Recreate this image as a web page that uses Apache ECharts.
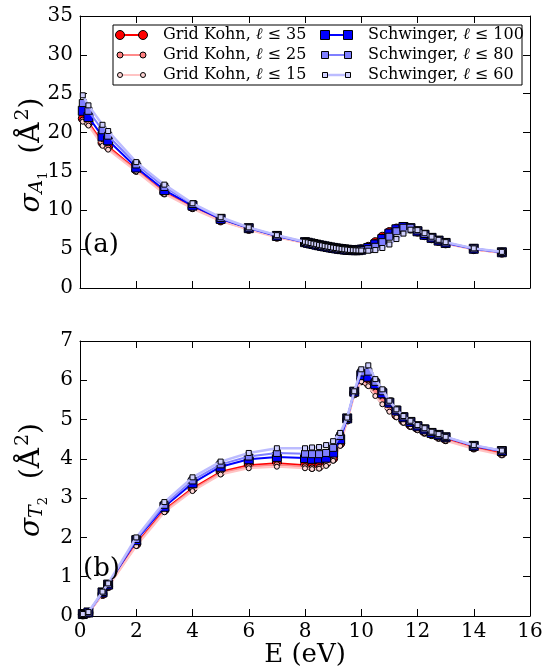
<!DOCTYPE html>
<html><head><meta charset="utf-8">
<script src="https://cdn.jsdelivr.net/npm/echarts@6.0.0/dist/echarts.min.js"></script>
<style>html,body{margin:0;padding:0;background:#fff}#c{width:546px;height:672px}</style>
</head><body><div id="c"></div>
<script>
// ---------- data: panel (a), A1 symmetry ----------
const energyA = [0.1,0.3,0.8,1.0,2,3,4,5,6,7,
  8.0,8.1,8.2,8.3,8.4,8.5,8.6,8.7,8.8,8.9,9.0,9.1,9.2,9.3,9.4,9.5,9.6,9.7,9.8,9.9,10.0,
  10.25,10.5,10.75,11.0,11.25,11.5,11.75,12.0,12.25,12.5,12.75,13.0,14,15];
const gk35A = [21.8,21.3,18.7,18.2,15.2,12.3,10.4,8.7,7.6,6.6,
  5.85,5.77,5.69,5.61,5.53,5.46,5.39,5.32,5.25,5.19,5.13,5.08,5.03,4.99,4.95,4.92,4.90,4.89,4.90,4.93,5.00,
  5.30,5.90,6.60,7.20,7.65,7.85,7.65,7.25,6.80,6.40,6.05,5.75,5.00,4.55];
const gk25A = [21.6,21.1,18.5,18.0,15.1,12.2,10.3,8.65,7.55,6.55,
  5.83,5.75,5.67,5.59,5.51,5.44,5.37,5.30,5.24,5.18,5.12,5.07,5.02,4.98,4.94,4.91,4.89,4.88,4.89,4.92,4.98,
  5.28,5.85,6.55,7.15,7.60,7.80,7.60,7.20,6.75,6.35,6.00,5.72,4.98,4.52];
const gk15A = [21.4,20.9,18.3,17.8,15.0,12.1,10.2,8.6,7.5,6.5,
  5.80,5.72,5.64,5.57,5.49,5.42,5.35,5.29,5.23,5.17,5.11,5.06,5.01,4.97,4.93,4.90,4.88,4.87,4.88,4.91,4.97,
  5.25,5.80,6.50,7.10,7.55,7.75,7.55,7.15,6.70,6.30,5.95,5.70,4.95,4.50];
const s100A = [22.8,22.0,19.5,19.0,15.5,12.6,10.6,8.9,7.7,6.7,
  5.90,5.82,5.74,5.66,5.58,5.50,5.43,5.36,5.29,5.22,5.16,5.10,5.05,5.00,4.96,4.92,4.89,4.87,4.86,4.87,4.92,
  5.15,5.60,6.30,7.00,7.55,7.85,7.70,7.30,6.85,6.45,6.10,5.80,5.05,4.60];
const s80A = [23.8,22.8,20.3,19.6,15.9,13.0,10.8,9.0,7.75,6.75,
  5.92,5.84,5.76,5.68,5.60,5.52,5.45,5.38,5.31,5.24,5.18,5.12,5.06,5.01,4.97,4.93,4.90,4.88,4.87,4.87,4.90,
  5.00,5.30,5.90,6.60,7.30,7.75,7.75,7.40,6.95,6.50,6.15,5.85,5.08,4.62];
const s60A = [24.8,23.5,21.0,20.2,16.2,13.3,10.9,9.1,7.8,6.8,
  5.95,5.87,5.79,5.71,5.63,5.55,5.48,5.41,5.34,5.27,5.20,5.14,5.08,5.03,4.98,4.94,4.90,4.87,4.85,4.83,4.82,
  4.80,4.88,5.15,5.60,6.30,7.00,7.50,7.45,7.05,6.60,6.20,5.90,5.10,4.65];

// ---------- data: panel (b), T2 symmetry ----------
const energyB = [0.1,0.3,0.8,1.0,2,3,4,5,6,7,
  8.0,8.25,8.5,8.75,9.0,9.25,9.5,9.75,10.0,10.25,10.5,10.75,11.0,11.25,11.5,11.75,12.0,12.25,12.5,12.75,13.0,14,15];
const gk35B = [0.04,0.08,0.56,0.76,1.83,2.70,3.25,3.67,3.84,3.89,
  3.84,3.80,3.81,3.89,4.01,4.39,5.00,5.67,6.00,5.92,5.75,5.54,5.31,5.11,4.97,4.86,4.78,4.69,4.63,4.56,4.50,4.29,4.14];
const gk25B = [0.04,0.08,0.55,0.75,1.80,2.67,3.22,3.64,3.80,3.85,
  3.80,3.77,3.78,3.86,3.98,4.36,4.98,5.64,5.98,5.88,5.70,5.48,5.26,5.08,4.94,4.84,4.76,4.67,4.61,4.54,4.48,4.27,4.12];
const gk15B = [0.04,0.08,0.54,0.74,1.78,2.64,3.18,3.60,3.76,3.80,
  3.76,3.74,3.75,3.82,3.95,4.33,4.96,5.62,5.97,5.85,5.60,5.39,5.20,5.06,4.92,4.82,4.73,4.65,4.59,4.52,4.46,4.25,4.10];
const s100B = [0.05,0.09,0.60,0.80,1.93,2.78,3.38,3.80,3.99,4.05,
  4.02,4.00,4.01,4.03,4.16,4.50,5.03,5.71,6.13,6.09,5.90,5.67,5.43,5.23,5.06,4.94,4.83,4.75,4.66,4.61,4.55,4.33,4.20];
const s80B = [0.05,0.09,0.61,0.81,1.96,2.83,3.45,3.86,4.06,4.15,
  4.13,4.12,4.12,4.15,4.28,4.58,5.04,5.72,6.20,6.22,5.96,5.72,5.46,5.25,5.08,4.96,4.85,4.77,4.68,4.62,4.56,4.34,4.21];
const s60B = [0.05,0.10,0.62,0.83,2.00,2.90,3.53,3.93,4.15,4.27,
  4.27,4.29,4.30,4.35,4.45,4.66,5.05,5.72,6.28,6.38,6.03,5.77,5.48,5.26,5.09,4.97,4.86,4.78,4.69,4.63,4.56,4.35,4.21];

// ---------- labels ----------
const legendMethod = ['Grid Kohn','Grid Kohn','Grid Kohn','Schwinger','Schwinger','Schwinger'];
const legendLmax = ['35','25','15','100','80','60'];
const xTicksMax = 16, xTickStep = 2;
const yTopMax = 35, yTopStep = 5;
const yBotMax = 7, yBotStep = 1;

// ---------- styles ----------
const FONT = '"DejaVu Serif", "Liberation Serif", serif';
const styles = [
  {sym:'circle', size:9, fill:'#ff0000', line:'#ff0000', lw:2},
  {sym:'circle', size:6, fill:'#ff8080', line:'#ff8a8a', lw:2},
  {sym:'circle', size:5, fill:'#ffd6d6', line:'#ffc4c4', lw:2},
  {sym:'rect',   size:9, fill:'#0000ff', line:'#0000ff', lw:2},
  {sym:'rect',   size:7, fill:'#7f7fff', line:'#7f7fff', lw:2},
  {sym:'rect',   size:5, fill:'#d0d0ff', line:'#bcbcff', lw:2.5},
];

const panelA = [gk35A, gk25A, gk15A, s100A, s80A, s60A];
const panelB = [gk35B, gk25B, gk15B, s100B, s80B, s60B];

function xAxis(grid, pos, labels) {
  return {type:'value', gridIndex:grid, position:pos, min:0, max:xTicksMax, interval:xTickStep,
    axisLine:{show:true, onZero:false, lineStyle:{color:'#000', width:1}},
    axisTick:{show:true, inside:true, length:7, lineStyle:{color:'#000', width:1}},
    axisLabel:{show:labels, fontFamily:FONT, fontSize:20, color:'#000', margin:6},
    splitLine:{show:false}};
}
function yAxis(grid, pos, max, step, labels) {
  return {type:'value', gridIndex:grid, position:pos, min:0, max:max, interval:step,
    axisLine:{show:true, onZero:false, lineStyle:{color:'#000', width:1}},
    axisTick:{show:true, inside:true, length:7, lineStyle:{color:'#000', width:1}},
    axisLabel:{show:labels, fontFamily:FONT, fontSize:20, color:'#000', margin:7},
    splitLine:{show:false}};
}

const series = [];
function addPanel(energies, values, xi, yi) {
  values.forEach((vals, k) => {
    const s = styles[k];
    series.push({
      type:'line', xAxisIndex:xi, yAxisIndex:yi,
      name: legendMethod[k] + ' ' + legendLmax[k],
      data: energies.map((e, i) => [e, vals[i]]),
      symbol: s.sym, symbolSize: s.size, showAllSymbol:true,
      lineStyle:{color:s.line, width:s.lw},
      itemStyle:{color:s.fill, borderColor:'#000', borderWidth:1},
      z: 2 + k, animation:false, silent:true
    });
  });
}
addPanel(energyA, panelA, 0, 0);
addPanel(energyB, panelB, 2, 2);

// legend (drawn as graphic, matplotlib-like with two markers per sample)
const legendChildren = [{type:'rect', shape:{x:113, y:25, width:409, height:60},
  style:{fill:'#fff', stroke:'#000', lineWidth:1}}];
for (let i = 0; i < 6; i++) {
  const col = i < 3 ? 0 : 1, row = i % 3, s = styles[i];
  const x0 = col ? 325 : 120, x1 = col ? 348 : 143, tx = col ? 368 : 163, y = 35 + row * 20;
  legendChildren.push({type:'line', shape:{x1:x0, y1:y, x2:x1, y2:y}, style:{stroke:s.line, lineWidth:s.lw}});
  [x0, x1].forEach(xx => {
    if (s.sym === 'circle') legendChildren.push({type:'circle', shape:{cx:xx, cy:y, r:s.size/2},
      style:{fill:s.fill, stroke:'#000', lineWidth:1}});
    else legendChildren.push({type:'rect', shape:{x:xx - s.size/2, y:y - s.size/2, width:s.size, height:s.size},
      style:{fill:s.fill, stroke:'#000', lineWidth:1}});
  });
  legendChildren.push({type:'text', x:tx, y:y, style:{
    text:'{r|' + legendMethod[i] + ', }{i|ℓ}{r| ≤ ' + legendLmax[i] + '}',
    rich:{r:{fontFamily:FONT, fontSize:16, fill:'#000'}, i:{fontFamily:FONT, fontSize:16, fontStyle:'italic', fill:'#000'}},
    verticalAlign:'middle', textVerticalAlign:'middle', align:'left', textAlign:'left'}});
}

function yLabel(cx, cy, sub, subsub) {
  return {type:'text', x:cx, y:cy, rotation:Math.PI/2, style:{
    text:'{s|σ}{a|' + sub + '}{n|' + subsub + '}{p|  (Å}{e|2}{p|)}',
    rich:{
      s:{fontFamily:FONT, fontSize:28, fontStyle:'italic', fill:'#000', lineHeight:36, verticalAlign:'middle'},
      a:{fontFamily:FONT, fontSize:19, fontStyle:'italic', fill:'#000', lineHeight:36, verticalAlign:'bottom', padding:[0,0,3,0]},
      n:{fontFamily:FONT, fontSize:13, fill:'#000', lineHeight:36, verticalAlign:'bottom', padding:[0,0,0,0]},
      p:{fontFamily:FONT, fontSize:28, fill:'#000', lineHeight:36, verticalAlign:'middle'},
      e:{fontFamily:FONT, fontSize:19, fill:'#000', lineHeight:36, verticalAlign:'top', padding:[0,0,0,2]}
    },
    align:'center', textAlign:'center', verticalAlign:'middle', textVerticalAlign:'middle'}};
}

const option = {
  animation:false,
  backgroundColor:'#fff',
  grid:[{left:80, top:16, width:450, height:272}, {left:80, top:341, width:450, height:275}],
  xAxis:[xAxis(0,'bottom',false), xAxis(0,'top',false), xAxis(1,'bottom',true), xAxis(1,'top',false)],
  yAxis:[yAxis(0,'left',yTopMax,yTopStep,true), yAxis(0,'right',yTopMax,yTopStep,false),
         yAxis(1,'left',yBotMax,yBotStep,true), yAxis(1,'right',yBotMax,yBotStep,false)],
  series: series,
  graphic:[
    {type:'group', z:100, children:legendChildren},
    {type:'text', z:100, x:83, y:245, style:{text:'(a)', fontFamily:FONT, fontSize:26, fill:'#000', verticalAlign:'middle', textVerticalAlign:'middle'}},
    {type:'text', z:100, x:83, y:569, style:{text:'(b)', fontFamily:FONT, fontSize:26, fill:'#000', verticalAlign:'middle', textVerticalAlign:'middle'}},
    {type:'text', z:100, x:305, y:655, style:{text:'E (eV)', fontFamily:FONT, fontSize:26, fill:'#000', align:'center', textAlign:'center', verticalAlign:'middle', textVerticalAlign:'middle'}},
    Object.assign(yLabel(32, 155, 'A', '1'), {z:100}),
    Object.assign(yLabel(32, 480, 'T', '2'), {z:100})
  ]
};
const chart = echarts.init(document.getElementById('c'), null, {renderer:'canvas'});
chart.setOption(option);
</script></body></html>
